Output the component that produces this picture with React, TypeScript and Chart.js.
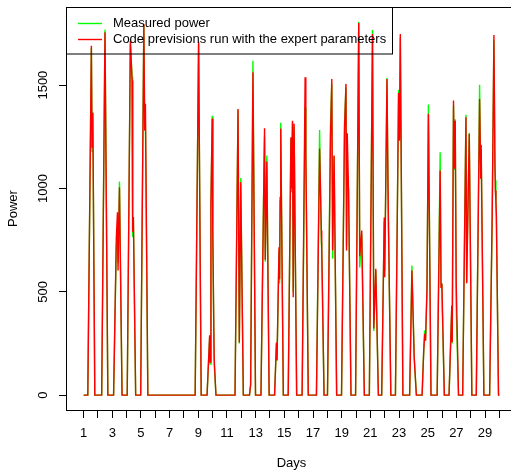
import React, { useEffect, useRef } from "react";
import { Chart, registerables } from "chart.js";

Chart.register(...registerables);

// Time in days (x), measured power and code previsions (y)
const dayTimes = [
  1.0,
  1.29, 1.54, 1.59, 1.64, 1.78,
  2.26, 2.49, 2.69,
  3.09, 3.28, 3.36, 3.4, 3.5, 3.68,
  4.04, 4.26, 4.38, 4.42, 4.47, 4.63,
  4.98, 5.2, 5.26, 5.31, 5.48,
  8.78, 9.02, 9.2,
  9.61, 9.79, 9.82, 9.88, 9.97, 10.01, 10.08, 10.11, 10.23,
  11.56, 11.77, 11.86, 11.96, 12.14,
  12.57, 12.65, 12.81, 12.99,
  13.37, 13.55, 13.62, 13.67, 13.78, 13.94,
  14.32, 14.45, 14.49, 14.63, 14.67, 14.71, 14.75, 14.93,
  15.27, 15.46, 15.5, 15.57, 15.62, 15.68, 15.86,
  16.24, 16.45, 16.5, 16.67,
  17.24, 17.46, 17.58, 17.61, 17.77,
  18.01, 18.22, 18.31, 18.37, 18.47, 18.65,
  18.99, 19.2, 19.3, 19.34, 19.39, 19.48, 19.65,
  19.97, 20.19, 20.26, 20.4, 20.58,
  20.93, 21.15, 21.24, 21.38, 21.56,
  21.79, 21.97, 22.0, 22.04, 22.16, 22.23, 22.27, 22.43,
  22.75, 22.97, 23.03, 23.09, 23.27,
  23.74, 23.9, 24.06, 24.21,
  24.61, 24.72, 24.79, 24.85, 24.95, 25.05, 25.23,
  25.66, 25.87, 25.93, 25.99, 26.16,
  26.49, 26.68, 26.71, 26.8, 26.86, 26.92, 26.99, 27.15,
  27.44, 27.67, 27.72, 27.9, 28.08,
  28.39, 28.62, 28.7, 28.73, 28.92,
  29.32, 29.5, 29.62, 29.69, 29.72, 29.76, 29.79, 29.94,
  30.0,
];

const measuredPower = [
  0,
  0, 1680, 1180, 1370, 0,
  0, 1768, 0,
  0, 720, 760, 640, 1033, 0,
  0, 1700, 1540, 765, 850, 0,
  0, 1790, 1289, 1310, 0,
  0, 1700, 0,
  0, 280, 150, 900, 1352, 772, 300, 153, 0,
  0, 1380, 250, 1050, 0,
  0, 55, 1618, 0,
  0, 942, 1250, 645, 1159, 0,
  0, 250, 165, 700, 540, 940, 1318, 0,
  0, 1240, 982, 1320, 500, 1300, 0,
  0, 1392, 1170, 0,
  0, 1283, 740, 700, 0,
  0, 1304, 1506, 660, 1156, 0,
  0, 1320, 1490, 720, 1040, 1000, 0,
  0, 1806, 618, 780, 0,
  0, 1767, 310, 600, 0,
  0, 840, 600, 796, 1535, 1000, 780, 0,
  0, 1477, 1232, 1730, 0,
  0, 627, 185, 0,
  0, 210, 313, 265, 500, 1406, 0,
  0, 1175, 540, 505, 0,
  0, 420, 250, 1400, 1090, 1335, 418, 0,
  0, 1357, 545, 1269, 0,
  0, 1502, 1050, 1190, 0,
  0, 860, 1720, 1100, 1040, 920, 870, 0,
  0,
];

const predictedPower = [
  0,
  0, 1690, 1200, 1365, 0,
  0, 1756, 0,
  0, 760, 885, 603, 1006, 0,
  0, 1715, 1522, 790, 862, 0,
  0, 1795, 1280, 1410, 0,
  0, 1710, 0,
  0, 290, 160, 933, 1338, 790, 329, 170, 0,
  0, 1385, 255, 1030, 0,
  0, 50, 1562, 0,
  0, 930, 1291, 655, 1130, 0,
  0, 255, 170, 716, 560, 957, 1290, 0,
  0, 1248, 1000, 1328, 474, 1313, 0,
  0, 1538, 1168, 0,
  0, 1193, 796, 709, 0,
  0, 1247, 1530, 700, 1159, 0,
  0, 1290, 1506, 700, 1267, 982, 0,
  0, 1800, 672, 796, 0,
  0, 1747, 322, 611, 0,
  0, 860, 570, 810, 1530, 1022, 796, 0,
  0, 1462, 1232, 1747, 0,
  0, 603, 180, 0,
  0, 208, 297, 263, 515, 1361, 0,
  0, 1087, 522, 540, 0,
  0, 434, 256, 1425, 1095, 1328, 540, 0,
  0, 1344, 541, 1264, 0,
  0, 1433, 1047, 1211, 0,
  0, 877, 1743, 1120, 990, 941, 869, 0,
  0,
];

const dayTicks = [1, 2, 3, 4, 5, 6, 7, 8, 9, 10, 11, 12, 13, 14, 15, 16, 17, 18, 19, 20, 21, 22, 23, 24, 25, 26, 27, 28, 29, 30];
const dayTickLabels = ["1", "", "3", "", "5", "", "7", "", "9", "", "11", "", "13", "", "15", "", "17", "", "19", "", "21", "", "23", "", "25", "", "27", "", "29", ""];
const powerTicks = [0, 500, 1000, 1500];
const seriesLabels = ["Measured power", "Code previsions run with the expert parameters"];
const seriesColors = ["#00ff00", "#ff0000"];

const FAMILY = "'Liberation Sans', Arial, Helvetica, sans-serif";
const FONT_SIZE = 13;
const LINE_W = 1.4;

export default function App() {
  const ref = useRef<HTMLCanvasElement>(null);

  useEffect(() => {
    const canvas = ref.current;
    if (!canvas) return;

    const overlay = {
      id: "rOverlay",
      afterDraw(chart: any) {
        const { ctx, scales } = chart;
        ctx.save();
        ctx.strokeStyle = "#000";
        ctx.lineWidth = 1;
        // plot box
        ctx.strokeRect(66.5, 7.5, 449, 403);
        // rotated y tick labels
        ctx.fillStyle = "#000";
        ctx.font = `${FONT_SIZE}px ${FAMILY}`;
        ctx.textAlign = "center";
        ctx.textBaseline = "middle";
        for (const v of powerTicks) {
          const y = scales.y.getPixelForValue(v);
          ctx.save();
          ctx.translate(43.5, y);
          ctx.rotate(-Math.PI / 2);
          ctx.fillText(String(v), 0, 0);
          ctx.restore();
        }
        // legend
        ctx.strokeRect(66.5, 7.5, 326, 46.5);
        const rows = [23.5, 39.5];
        for (let i = 0; i < seriesLabels.length; i++) {
          ctx.strokeStyle = seriesColors[i];
          ctx.lineWidth = LINE_W;
          ctx.beginPath();
          ctx.moveTo(78, rows[i]);
          ctx.lineTo(102, rows[i]);
          ctx.stroke();
          ctx.textAlign = "left";
          ctx.fillStyle = "#000";
          ctx.fillText(seriesLabels[i], 113, rows[i]);
        }
        ctx.restore();
      },
    };

    const font = { family: FAMILY, size: FONT_SIZE };

    const chart = new Chart(canvas, {
      type: "line",
      data: {
        datasets: [
          {
            label: seriesLabels[0],
            data: dayTimes.map((t, i) => ({ x: t, y: measuredPower[i] })),
            borderColor: seriesColors[0],
            backgroundColor: seriesColors[0],
            borderWidth: LINE_W,
            pointRadius: 0,
            tension: 0,
            fill: false,
            order: 2,
          },
          {
            label: seriesLabels[1],
            data: dayTimes.map((t, i) => ({ x: t, y: predictedPower[i] })),
            borderColor: seriesColors[1],
            backgroundColor: seriesColors[1],
            borderWidth: LINE_W,
            pointRadius: 0,
            tension: 0,
            fill: false,
            order: 1,
          },
        ],
      },
      options: {
        responsive: false,
        maintainAspectRatio: false,
        animation: false,
        events: [],
        layout: { padding: { left: 0, top: 7, right: 4, bottom: 0 } },
        plugins: {
          legend: { display: false },
          tooltip: { enabled: false },
        },
        scales: {
          x: {
            type: "linear",
            min: -0.16,
            max: 31.16,
            afterBuildTicks: (s: any) => {
              s.ticks = dayTicks.map((v) => ({ value: v }));
            },
            afterFit: (s: any) => {
              s.height = 61;
            },
            border: { display: false },
            grid: {
              drawOnChartArea: false,
              drawTicks: true,
              tickLength: 8,
              color: "#000",
              lineWidth: 1,
            },
            ticks: {
              autoSkip: false,
              maxRotation: 0,
              minRotation: 0,
              padding: 8,
              color: "#000",
              font,
              callback: (value: any) => {
                const idx = dayTicks.indexOf(Number(value));
                return idx >= 0 ? dayTickLabels[idx] : "";
              },
            },
            title: {
              display: true,
              text: "Days",
              color: "#000",
              font,
              padding: { top: 0, bottom: 0 },
            },
          },
          y: {
            type: "linear",
            min: -72,
            max: 1878,
            afterBuildTicks: (s: any) => {
              s.ticks = powerTicks.map((v) => ({ value: v }));
            },
            afterFit: (s: any) => {
              s.width = 67;
            },
            border: { display: false },
            grid: {
              drawOnChartArea: false,
              drawTicks: true,
              tickLength: 8,
              color: "#000",
              lineWidth: 1,
            },
            ticks: { display: false },
            title: {
              display: true,
              text: "Power",
              color: "#000",
              font,
              padding: { top: 5.5, bottom: 0 },
            },
          },
        },
      },
      plugins: [overlay],
    } as any);

    return () => chart.destroy();
  }, []);

  return (
    <div style={{ position: "absolute", left: 0, top: 0, width: 511, height: 471, overflow: "hidden", background: "#fff" }}>
      <canvas ref={ref} width={520} height={471} style={{ display: "block", width: 520, height: 471 }} />
    </div>
  );
}
